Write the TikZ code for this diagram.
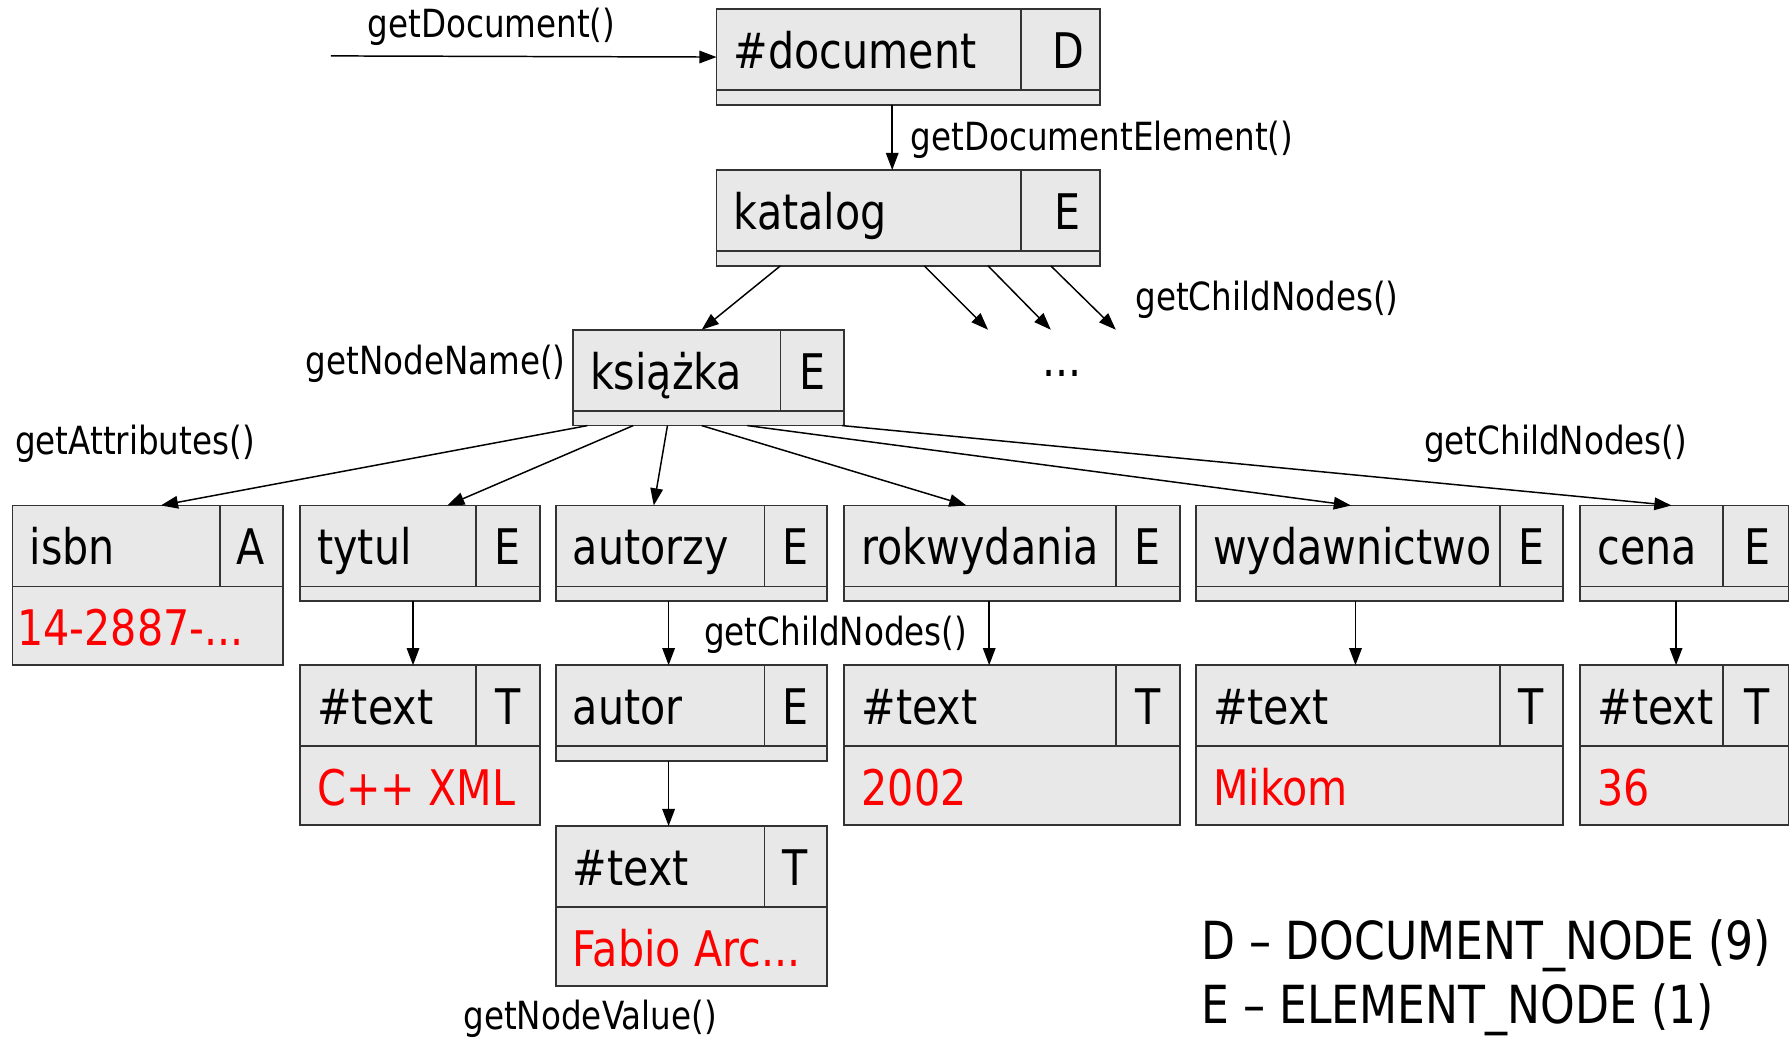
\documentclass[tikz,border=0pt]{standalone}
\usepackage{fontspec}
\setmainfont{DejaVu Sans}[FakeStretch=0.84]
\usetikzlibrary{arrows.meta}
\tikzstyle{cell} = [draw=black!80, fill=black!9, line width=1.6pt, inner sep=0pt, outer sep=0pt, anchor=north west]
\tikzstyle{cellrule} = [draw=black!80, line width=1.6pt]
\tikzstyle{bigtxt} = [font=\fontsize{43pt}{43pt}\selectfont, inner sep=0pt]
\tikzstyle{lbl} = [font=\fontsize{34pt}{34pt}\selectfont, inner sep=0pt, anchor=base west]
\tikzstyle{legend} = [font=\fontsize{46pt}{46pt}\selectfont, inner sep=0pt, anchor=base west]
\tikzstyle{link} = [line width=1.3pt, -{Triangle[length=15pt,width=11pt]}]
% element box: name, x, y, width, type width, text, type
\newcommand{\elnode}[7]{%
	\node [cell, minimum width=#4pt, minimum height=84pt] (#1) at (#2,#3) {};%
	\draw [cellrule] ([yshift=-71pt]#1.north west) -- ([yshift=-71pt]#1.north east);%
	\draw [cellrule] ([xshift=-#5pt]#1.north east) -- ([xshift=-#5pt,yshift=-71pt]#1.north east);%
	\node [bigtxt, anchor=base west] (#1-name) at ([xshift=15pt,yshift=-52pt]#1.north west) {#6};%
	\node [bigtxt, anchor=base] (#1-type) at ([xshift=-28pt,yshift=-52pt]#1.north east) {#7};%
}
% box with value: [pad] name, x, y, width, type width, text, type, value
\newcommand{\valnode}[9][15]{%
	\node [cell, minimum width=#5pt, minimum height=140pt] (#2) at (#3,#4) {};%
	\draw [cellrule] ([yshift=-71pt]#2.north west) -- ([yshift=-71pt]#2.north east);%
	\draw [cellrule] ([xshift=-#6pt]#2.north east) -- ([xshift=-#6pt,yshift=-71pt]#2.north east);%
	\node [bigtxt, anchor=base west] (#2-name) at ([xshift=15pt,yshift=-52pt]#2.north west) {#7};%
	\node [bigtxt, anchor=base] (#2-type) at ([xshift=-28pt,yshift=-52pt]#2.north east) {#8};%
	\node [bigtxt, anchor=base west, text=red] (#2-value) at ([xshift=#1pt,yshift=-123pt]#2.north west) {#9};%
}

\begin{document}
\begin{tikzpicture}[x=1pt, y=-1pt]%
	\useasboundingbox (0,0) rectangle (1568,911);%
	\elnode{doc}{628}{8}{336}{69}{\#document}{D}
	\elnode{katalog}{628}{149}{336}{69}{katalog}{E}
	\elnode{ksiazka}{502}{289}{238}{56}{książka}{E}
	\valnode[4]{isbn}{11}{443}{237}{55}{isbn}{A}{14-2887-...}
	\elnode{tytul}{263}{443}{210}{56}{tytul}{E}
	\elnode{autorzy}{487}{443}{238}{55}{autorzy}{E}
	\elnode{rok}{740}{443}{294}{56}{rokwydania}{E}
	\elnode{wyd}{1048}{443}{322}{55}{wydawnictwo}{E}
	\elnode{cena}{1385}{443}{183}{58}{cena}{E}
	\valnode{tytul-txt}{263}{583}{210}{56}{\#text}{T}{C++ XML}
	\elnode{autor}{487}{583}{238}{55}{autor}{E}
	\valnode{rok-txt}{740}{583}{294}{56}{\#text}{T}{2002}
	\valnode{wyd-txt}{1048}{583}{322}{55}{\#text}{T}{Mikom}
	\valnode{cena-txt}{1385}{583}{183}{58}{\#text}{T}{36}
	\valnode{autor-txt}{487}{724}{238}{55}{\#text}{T}{Fabio Arc...}
	% connectors
	\coordinate (entry) at (290,49);
	\draw [link] (entry) -- (doc.west);
	\draw [link] ([xshift=154]doc.south west) -- ([xshift=154]katalog.north west);
	\draw [link] ([xshift=56]katalog.south west) -- ([xshift=113]ksiazka.north west);
	\foreach \i/\s/\e in {1/182/866, 2/238/921, 3/293/978} {
		\coordinate (more\i) at (\e,289);
		\draw [link] ([xshift=\s]katalog.south west) -- (more\i);
	}
	\foreach \t/\s/\e in {isbn/13/130, tytul/53/129, autorzy/83/86, rok/113/107, wyd/153/136, cena/236/80}
		\draw [link] ([xshift=\s]ksiazka.south west) -- ([xshift=\e]\t.north west);
	\foreach \a/\b/\s in {tytul/tytul-txt/99, autorzy/autor/99, autor/autor-txt/99, rok/rok-txt/127, wyd/wyd-txt/140, cena/cena-txt/84}
		\draw [link] ([xshift=\s]\a.south west) -- ([xshift=\s]\b.north west);
	% labels
	\node [lbl] (l-getdoc) at (322,33) {getDocument()};
	\node [lbl] (l-getdocel) at (798,132) {getDocumentElement()};
	\node [lbl] (l-child1) at (995,272) {getChildNodes()};
	\node [lbl, anchor=base east] (l-name) at (496,328) {getNodeName()};
	\node [lbl] (l-attr) at (13,398) {getAttributes()};
	\node [lbl] (l-child2) at (1248,398) {getChildNodes()};
	\node [lbl] (l-child3) at (617,566) {getChildNodes()};
	\node [lbl] (l-value) at (406,902) {getNodeValue()};
	\node [bigtxt, anchor=base] (dots) at (931,330) {...};
	\node [legend] (leg-d) at (1053,841) {D – DOCUMENT\_NODE (9)};
	\node [legend] (leg-e) at (1053,897) {E – ELEMENT\_NODE (1)};
\end{tikzpicture}
\end{document}
